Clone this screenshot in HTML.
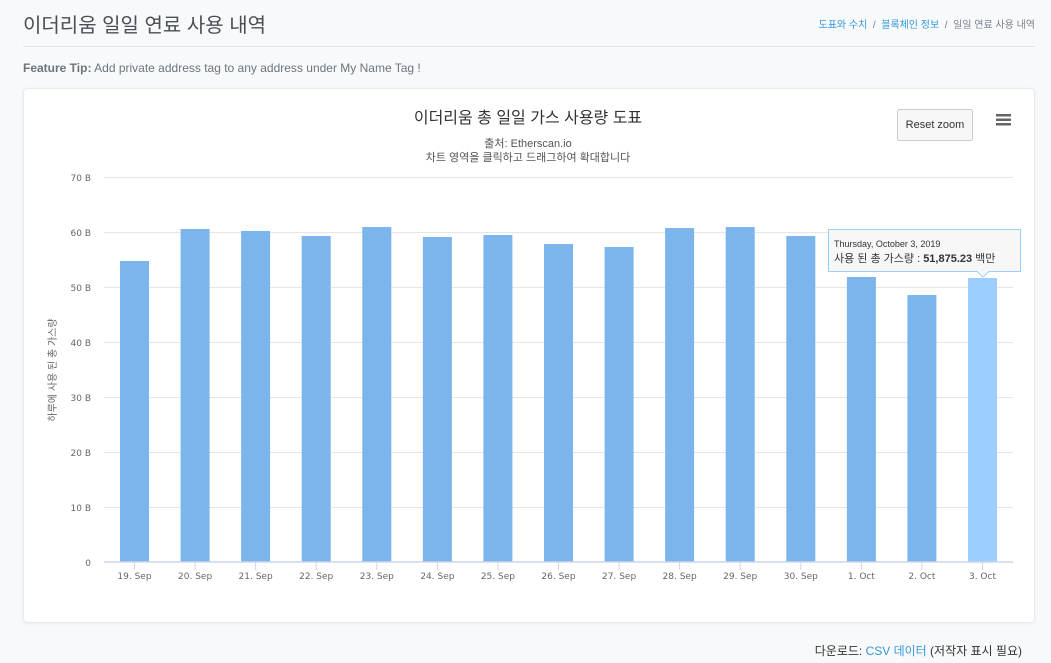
<!DOCTYPE html>
<html><head><meta charset="utf-8"><style>
body{margin:0;background:#f8f9fa;font-family:"Liberation Sans","Noto Sans CJK KR",sans-serif;width:1051px;height:663px;overflow:hidden;position:relative}
.t{position:absolute}
</style></head><body>
<div class="t" style="left:23px;top:9px;font-size:20px;color:#4a4f55">이더리움 일일 연료 사용 내역</div>
<div class="t" style="right:16px;top:16px;font-size:10px;color:#77838f"><span style="color:#3498db">도표와 수치</span> &nbsp;/&nbsp; <span style="color:#3498db">블록체인 정보</span> &nbsp;/&nbsp; 일일 연료 사용 내역</div>
<div class="t" style="left:23px;top:46px;width:1012px;height:1px;background:#e3e6ec"></div>
<div class="t" style="left:23px;top:61px;font-size:12px;color:#6c757d"><b>Feature Tip:</b> Add private address tag to any address under My Name Tag !</div>
<div class="t" style="left:23px;top:88px;width:1010px;height:533px;background:#fff;border:1px solid #e7eaf3;border-radius:4px;box-shadow:0 1px 4px rgba(0,0,0,.05)"></div>
<svg class="t" style="left:0;top:0" width="1051" height="663" font-family="Liberation Sans, Noto Sans CJK KR, sans-serif">
<text x="528" y="123" text-anchor="middle" font-size="16" fill="#333">이더리움 총 일일 가스 사용량 도표</text>
<text x="528" y="147" text-anchor="middle" font-size="11" fill="#555">출처: Etherscan.io</text>
<text x="528" y="161" text-anchor="middle" font-size="11" fill="#555">차트 영역을 클릭하고 드래그하여 확대합니다</text>
<rect x="897.5" y="109.5" width="75" height="31" fill="#f7f7f7" stroke="#ccc" rx="2"/>
<text x="935" y="128" text-anchor="middle" font-size="11" fill="#333">Reset zoom</text>
<g fill="#666"><rect x="996" y="114" width="15" height="2.5"/><rect x="996" y="118.5" width="15" height="2.5"/><rect x="996" y="123" width="15" height="2.5"/></g>
<g stroke="#e6e6e6" stroke-width="1">
<line x1="104" x2="1013" y1="177.5" y2="177.5"/><line x1="104" x2="1013" y1="232.5" y2="232.5"/><line x1="104" x2="1013" y1="287.5" y2="287.5"/><line x1="104" x2="1013" y1="342.5" y2="342.5"/><line x1="104" x2="1013" y1="397.5" y2="397.5"/><line x1="104" x2="1013" y1="452.5" y2="452.5"/><line x1="104" x2="1013" y1="507.5" y2="507.5"/>
</g>
<g font-size="9" fill="#666" text-anchor="end" font-family="DejaVu Sans, sans-serif">
<text x="91" y="181">70 B</text><text x="91" y="236">60 B</text><text x="91" y="291">50 B</text><text x="91" y="346">40 B</text><text x="91" y="401">30 B</text><text x="91" y="456">20 B</text><text x="91" y="511">10 B</text><text x="91" y="566">0</text>
</g>
<text transform="translate(56,370) rotate(-90)" text-anchor="middle" font-size="10" fill="#666">하루에 사용 된 총 가스량</text>
<g fill="#7cb5ec">
<rect x="120" y="261" width="29" height="301"/>
<rect x="180.6" y="229" width="29" height="333"/>
<rect x="241.1" y="231" width="29" height="331"/>
<rect x="301.7" y="236" width="29" height="326"/>
<rect x="362.3" y="227" width="29" height="335"/>
<rect x="422.9" y="237" width="29" height="325"/>
<rect x="483.4" y="235" width="29" height="327"/>
<rect x="544" y="244" width="29" height="318"/>
<rect x="604.6" y="247" width="29" height="315"/>
<rect x="665.1" y="228" width="29" height="334"/>
<rect x="725.7" y="227" width="29" height="335"/>
<rect x="786.3" y="236" width="29" height="326"/>
<rect x="846.9" y="277" width="29" height="285"/>
<rect x="907.4" y="295" width="29" height="267"/>
<rect x="968" y="278" width="29" height="284" fill="#9ccfff"/>
</g>
<line x1="104" x2="1013" y1="562" y2="562" stroke="#ccd6eb" stroke-width="1.5"/>
<g stroke="#ccd6eb"><line x1="134.5" x2="134.5" y1="562" y2="570"/><line x1="195.1" x2="195.1" y1="562" y2="570"/><line x1="255.6" x2="255.6" y1="562" y2="570"/><line x1="316.2" x2="316.2" y1="562" y2="570"/><line x1="376.8" x2="376.8" y1="562" y2="570"/><line x1="437.4" x2="437.4" y1="562" y2="570"/><line x1="497.9" x2="497.9" y1="562" y2="570"/><line x1="558.5" x2="558.5" y1="562" y2="570"/><line x1="619.1" x2="619.1" y1="562" y2="570"/><line x1="679.6" x2="679.6" y1="562" y2="570"/><line x1="740.2" x2="740.2" y1="562" y2="570"/><line x1="800.8" x2="800.8" y1="562" y2="570"/><line x1="861.4" x2="861.4" y1="562" y2="570"/><line x1="921.9" x2="921.9" y1="562" y2="570"/><line x1="982.5" x2="982.5" y1="562" y2="570"/></g>
<g font-size="9" fill="#666" text-anchor="middle" font-family="DejaVu Sans, sans-serif">
<text x="134.5" y="579">19. Sep</text><text x="195.1" y="579">20. Sep</text><text x="255.6" y="579">21. Sep</text><text x="316.2" y="579">22. Sep</text><text x="376.8" y="579">23. Sep</text><text x="437.4" y="579">24. Sep</text><text x="497.9" y="579">25. Sep</text><text x="558.5" y="579">26. Sep</text><text x="619.1" y="579">27. Sep</text><text x="679.6" y="579">28. Sep</text><text x="740.2" y="579">29. Sep</text><text x="800.8" y="579">30. Sep</text><text x="861.4" y="579">1. Oct</text><text x="921.9" y="579">2. Oct</text><text x="982.5" y="579">3. Oct</text>
</g>
<path d="M828.5 229.5 H1020.5 V271.5 H989 L983 277 L977 271.5 H828.5 Z" fill="#f7f7f7" fill-opacity="0.95" stroke="#9ccfff" stroke-width="1"/>
<text x="834" y="247" font-size="9" fill="#333">Thursday, October 3, 2019</text>
<text x="834" y="262" font-size="11" fill="#333">사용 된 총 가스량 : <tspan font-weight="bold">51,875.23</tspan> 백만</text>
</svg>
<div class="t" style="right:29px;top:642px;font-size:12px;color:#333">다운로드: <span style="color:#3498db">CSV 데이터</span> (저작자 표시 필요)</div>
</body></html>
